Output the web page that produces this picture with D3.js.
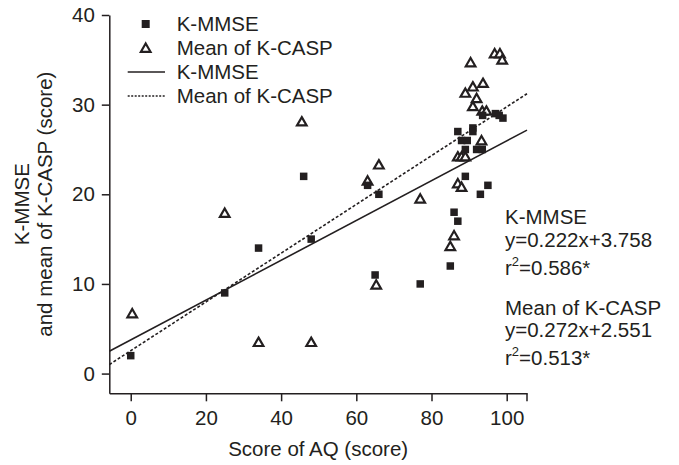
<!DOCTYPE html>
<html>
<head>
<meta charset="utf-8">
<script src="https://cdn.jsdelivr.net/npm/d3@7"></script>
<style>
    body { margin: 0; background: #fff; }
    svg text { font-family: 'Liberation Sans', Arial, sans-serif; fill: #231f20; }
</style>
</head>
<body>
<svg id="chart" width="679" height="465"></svg>
<script>
// AQ score against K-MMSE and mean K-CASP, with both fitted lines.

const mmseAQ = [0, 25, 34, 46, 48, 63, 65, 66, 77, 85, 86, 87, 89, 93, 95,
    89, 92, 93.5, 88, 89.5, 87, 91, 91, 93.6, 97, 98, 99];
const mmseScore = [2, 9, 14, 22, 15, 21, 11, 20, 10, 12, 18, 17, 22, 20, 21,
    25, 25, 25, 26, 26, 27, 27.4, 27, 28.8, 29, 28.8, 28.5];

const caspAQ = [0.4, 25, 34, 45.5, 48, 63, 65.3, 66, 77, 85, 86, 87, 88, 87, 88, 89,
    93.3, 93.5, 94.6, 91, 92, 89, 91, 93.7, 90.4, 96.8, 98.2, 98.8];
const caspScore = [6.7, 17.9, 3.5, 28.1, 3.5, 21.5, 9.9, 23.3, 19.5, 14.2, 15.4, 21.2, 20.8, 24.2, 24.2, 24.2,
    26, 29.3, 29.3, 29.8, 30.7, 31.3, 32, 32.4, 34.7, 35.7, 35.7, 35];

// slope, intercept
const mmseFit = [0.222, 3.758];
const caspFit = [0.272, 2.551];

const xTicks = [0, 20, 40, 60, 80, 100];
const yTicks = [0, 10, 20, 30, 40];

const legendLabels = ['K-MMSE', 'Mean of K-CASP', 'K-MMSE', 'Mean of K-CASP'];
const noteLines = [
    ['K-MMSE', 'y=0.222x+3.758', '0.586*'],
    ['Mean of K-CASP', 'y=0.272x+2.551', '0.513*'],
];

const ink = '#231f20';
const fontSize = 20.5;

const svg = d3.select('#chart');
const margin = { left: 109.3, right: 527, top: 15, bottom: 393.3 };

const x = d3.scaleLinear()
    .domain([-5.7, 105.4])
    .range([margin.left, margin.right]);

const y = d3.scaleLinear()
    .domain([-2.2, 40])
    .range([margin.bottom, margin.top]);

// axes
const xAxis = svg.append('g')
    .attr('transform', `translate(0,${margin.bottom})`)
    .call(d3.axisBottom(x).tickValues(xTicks).tickSize(8).tickSizeOuter(0).tickPadding(8));

// closing tick at the right end of the x axis
xAxis.append('line')
    .attr('x1', x.range()[1]).attr('x2', x.range()[1])
    .attr('y1', 0).attr('y2', 8);

const yAxis = svg.append('g')
    .attr('transform', `translate(${margin.left},0)`)
    .call(d3.axisLeft(y).tickValues(yTicks).tickSize(7.5).tickSizeOuter(0).tickPadding(7));

[xAxis, yAxis].forEach(a => {
    a.selectAll('path, line').attr('stroke', ink).attr('stroke-width', 1.5);
    a.selectAll('text')
        .attr('font-size', fontSize)
        .style('font-family', "'Liberation Sans', Arial, sans-serif")
        .attr('fill', ink);
});

xAxis.selectAll('text').attr('dy', '0.71em').attr('y', 17);

svg.append('text')
    .attr('x', (margin.left + margin.right) / 2)
    .attr('y', 456)
    .attr('text-anchor', 'middle')
    .attr('font-size', fontSize)
    .text('Score of AQ (score)');

const yLabel = svg.append('text')
    .attr('transform', `translate(29,${(margin.top + margin.bottom) / 2}) rotate(-90)`)
    .attr('text-anchor', 'middle')
    .attr('font-size', fontSize);
yLabel.append('tspan').attr('x', 0).attr('dy', 0).text('K-MMSE');
yLabel.append('tspan').attr('x', 0).attr('dy', 23).text('and mean of K-CASP (score)');

// fitted lines
const fitLine = fit => d3.line()
    .x(d => x(d))
    .y(d => y(fit[0] * d + fit[1]));

svg.append('path')
    .datum(x.domain())
    .attr('d', fitLine(mmseFit))
    .attr('fill', 'none')
    .attr('stroke', ink)
    .attr('stroke-width', 1.6);

svg.append('path')
    .datum(x.domain())
    .attr('d', fitLine(caspFit))
    .attr('fill', 'none')
    .attr('stroke', ink)
    .attr('stroke-width', 1.6)
    .attr('stroke-dasharray', '3, 2');

// markers
const triangle = d3.symbol().type(d3.symbolTriangle).size(40);

svg.append('g')
    .selectAll('path')
    .data(d3.zip(caspAQ, caspScore))
    .enter().append('path')
    .attr('d', triangle)
    .attr('transform', d => `translate(${x(d[0])},${y(d[1]) + 1})`)
    .attr('fill', '#fff')
    .attr('stroke', ink)
    .attr('stroke-width', 2.2);

svg.append('g')
    .selectAll('rect')
    .data(d3.zip(mmseAQ, mmseScore))
    .enter().append('rect')
    .attr('x', d => x(d[0]) - 3.75)
    .attr('y', d => y(d[1]) - 3.75)
    .attr('width', 7.5)
    .attr('height', 7.5)
    .attr('fill', ink);

// legend
const legend = svg.append('g');
const rowY = i => 24 + i * 24;

legend.selectAll('text')
    .data(legendLabels)
    .enter().append('text')
    .attr('x', 176.7)
    .attr('y', (d, i) => rowY(i))
    .attr('dy', '0.35em')
    .attr('font-size', fontSize)
    .text(d => d);

legend.append('rect')
    .attr('x', 145.7 - 4).attr('y', rowY(0) - 4)
    .attr('width', 8).attr('height', 8)
    .attr('fill', ink);

legend.append('path')
    .attr('d', triangle)
    .attr('transform', `translate(145.7,${rowY(1) + 1})`)
    .attr('fill', '#fff')
    .attr('stroke', ink)
    .attr('stroke-width', 2.2);

legend.append('line')
    .attr('x1', 127.7).attr('x2', 165)
    .attr('y1', rowY(2)).attr('y2', rowY(2))
    .attr('stroke', ink).attr('stroke-width', 1.5);

legend.append('line')
    .attr('x1', 127.7).attr('x2', 165)
    .attr('y1', rowY(3)).attr('y2', rowY(3))
    .attr('stroke', ink).attr('stroke-width', 1.5)
    .attr('stroke-dasharray', '2, 1.5');

// equations
const noteBaselines = [[224, 247, 275], [315, 337, 365]];
noteLines.forEach((lines, g) => {
    const base = noteBaselines[g];
    svg.append('text').attr('x', 505).attr('y', base[0]).attr('font-size', fontSize).text(lines[0]);
    svg.append('text').attr('x', 505).attr('y', base[1]).attr('font-size', fontSize).text(lines[1]);
    const r = svg.append('text').attr('x', 505).attr('y', base[2]).attr('font-size', fontSize);
    r.append('tspan').text('r');
    r.append('tspan').attr('font-size', 13).attr('dy', -9).text('2');
    r.append('tspan').attr('dy', 9).text('=' + lines[2]);
});
</script>
</body>
</html>
